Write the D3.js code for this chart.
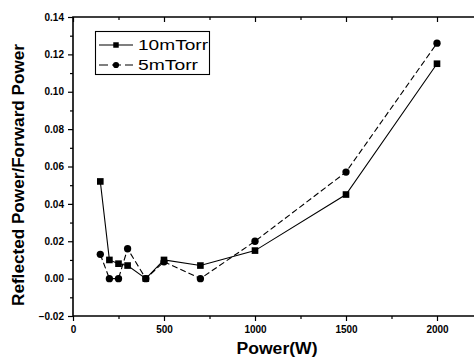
<!DOCTYPE html>
<html>
<head>
<meta charset="utf-8">
<script src="https://cdn.jsdelivr.net/npm/d3@7"></script>
<style>
  body { margin: 0; background: #fff; }
  svg { display: block; font-family: Arial, "Liberation Sans", sans-serif; }
</style>
</head>
<body>
<div id="chart"></div>
<script>
const power = [150, 200, 250, 300, 400, 500, 700, 1000, 1500, 2000];
const torr10 = [0.052, 0.010, 0.008, 0.007, 0.000, 0.010, 0.007, 0.015, 0.045, 0.115];
const torr5 = [0.013, 0.000, 0.000, 0.016, 0.000, 0.009, 0.000, 0.020, 0.057, 0.126];
const seriesNames = ["10mTorr", "5mTorr"];
const xTicks = [0, 500, 1000, 1500, 2000];
const yTicks = [-0.02, 0.00, 0.02, 0.04, 0.06, 0.08, 0.10, 0.12, 0.14];

const W = 474, H = 364;
const margin = { left: 73, top: 17, bottom: 48 };

const svg = d3.select("#chart").append("svg").attr("width", W).attr("height", H);

const x = d3.scaleLinear().domain([0, 2250]).range([margin.left, margin.left + 2250 * 91 / 500]);
const y = d3.scaleLinear().domain([-0.02, 0.14]).range([H - margin.bottom, margin.top]);

const x0 = x(0), x1 = x(2250), yb = y(-0.02), yt = y(0.14);

// frame, open on the right (cut off in the original)
svg.append("path")
  .attr("d", `M${x1},${yt}H${x0}V${yb}H${x1}`)
  .attr("fill", "none").attr("stroke", "#000").attr("stroke-width", 1.6);

// bottom axis
svg.append("g").attr("transform", `translate(0,${yb})`)
  .call(d3.axisBottom(x).tickValues(xTicks).tickSize(5).tickPadding(5).tickFormat(d3.format("d")));
svg.append("g").attr("transform", `translate(0,${yb})`)
  .call(d3.axisBottom(x).tickValues(d3.range(250, 2250, 500)).tickSize(3).tickFormat(""));
// top mirror ticks (inward)
svg.append("g").attr("transform", `translate(0,${yt})`)
  .call(d3.axisBottom(x).tickValues(xTicks).tickSize(5).tickFormat(""));
svg.append("g").attr("transform", `translate(0,${yt})`)
  .call(d3.axisBottom(x).tickValues(d3.range(250, 2250, 500)).tickSize(3).tickFormat(""));

// left axis
svg.append("g").attr("transform", `translate(${x0},0)`)
  .call(d3.axisLeft(y).tickValues(yTicks).tickSize(5).tickPadding(4).tickFormat(d3.format(".2f")));
svg.append("g").attr("transform", `translate(${x0},0)`)
  .call(d3.axisLeft(y).tickValues(d3.range(-0.01, 0.14, 0.02)).tickSize(3).tickFormat(""));

svg.selectAll(".domain").remove();
svg.selectAll(".tick line").attr("stroke", "#000").attr("stroke-width", 1.2);
svg.selectAll(".tick text").attr("fill", "#000").style("font-size", "10px").style("font-weight", "bold");

// axis titles
svg.append("text")
  .attr("x", 277).attr("y", 354)
  .attr("text-anchor", "middle")
  .attr("textLength", 81).attr("lengthAdjust", "spacingAndGlyphs")
  .style("font-size", "16px").style("font-weight", "bold")
  .text("Power(W)");
svg.append("text")
  .attr("transform", `translate(24,175) rotate(-90)`)
  .attr("text-anchor", "middle")
  .attr("textLength", 262).attr("lengthAdjust", "spacingAndGlyphs")
  .style("font-size", "16px").style("font-weight", "bold")
  .text("Reflected Power/Forward Power");

// series
const series = [
  { name: seriesNames[0], values: torr10, dash: null, shape: d3.symbolSquare },
  { name: seriesNames[1], values: torr5, dash: "6,3", shape: d3.symbolCircle }
];

const line = d3.line().x(d => x(d[0])).y(d => y(d[1]));

series.forEach(s => {
  const pts = power.map((p, i) => [p, s.values[i]]);
  svg.append("path")
    .datum(pts)
    .attr("d", line)
    .attr("fill", "none")
    .attr("stroke", "#000")
    .attr("stroke-width", 1.1)
    .attr("stroke-dasharray", s.dash);
  svg.selectAll(null)
    .data(pts)
    .join("path")
    .attr("transform", d => `translate(${x(d[0])},${y(d[1])})`)
    .attr("d", d3.symbol().type(s.shape).size(s.shape === d3.symbolSquare ? 44 : 42))
    .attr("fill", "#000");
});

// legend
const legend = svg.append("g");
legend.append("rect")
  .attr("x", 95.5).attr("y", 31.5).attr("width", 114).attr("height", 43)
  .attr("fill", "#fff").attr("stroke", "#000").attr("stroke-width", 1.1);
series.forEach((s, i) => {
  const ly = 45 + i * 20;
  legend.append("line")
    .attr("x1", 99).attr("x2", 133).attr("y1", ly).attr("y2", ly)
    .attr("stroke", "#000").attr("stroke-width", 1.2)
    .attr("stroke-dasharray", s.dash ? "9,4" : null);
  legend.append("path")
    .attr("transform", `translate(116,${ly})`)
    .attr("d", d3.symbol().type(s.shape).size(30))
    .attr("fill", "#000");
  legend.append("text")
    .attr("x", 138).attr("y", ly + 5)
    .attr("textLength", s.name.length * 10).attr("lengthAdjust", "spacingAndGlyphs")
    .style("font-size", "15px")
    .text(s.name);
});
</script>
</body>
</html>
